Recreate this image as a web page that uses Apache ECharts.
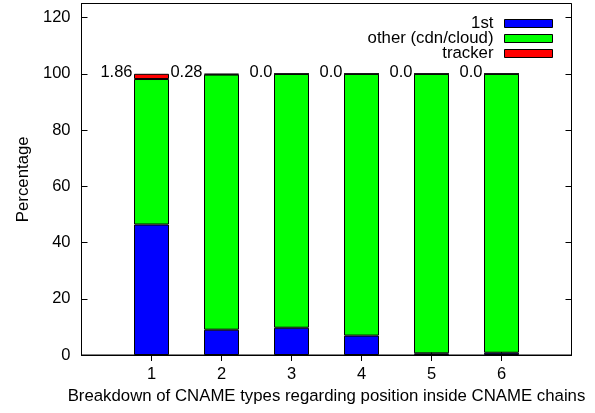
<!DOCTYPE html>
<html>
<head>
<meta charset="utf-8">
<script src="https://cdn.jsdelivr.net/npm/echarts@6/dist/echarts.min.js"></script>
<style>
html,body{margin:0;padding:0;background:#fff;}
#c{width:595px;height:413px;}
</style>
</head>
<body>
<div id="c"></div>
<script>
var xCategories = ['0', '1', '2', '3', '4', '5', '6', '7'];
var positions = ['1', '2', '3', '4', '5', '6'];
var firstParty = [46.4, 9.0, 9.7, 6.9, 0.6, 0.8];
var otherCdn = [51.74, 90.72, 90.26, 93.07, 99.37, 99.17];
var tracker = [1.86, 0.28, 0.04, 0.03, 0.03, 0.03];
var trackerLabels = ['1.86', '0.28', '0.0', '0.0', '0.0', '0.0'];
var yTicks = [0, 20, 40, 60, 80, 100, 120];

var FONT = 'Liberation Sans, Arial, Helvetica, sans-serif';
var FS = 16.5;
function fill(vals) {
  return xCategories.map(function (c) {
    var i = positions.indexOf(c);
    return i >= 0 ? vals[i] : '-';
  });
}
var totals = positions.map(function (p, i) { return firstParty[i] + otherCdn[i] + tracker[i]; });
function innerTick(idx, val) { return positions.indexOf(String(val)) >= 0; }

function barSeries(name, vals, color) {
  return {
    type: 'bar', stack: 'all', barWidth: 35, name: name, data: fill(vals),
    itemStyle: { color: color, borderColor: '#000', borderWidth: 1 },
    emphasis: { disabled: true }
  };
}

var chart = echarts.init(document.getElementById('c'), null, { renderer: 'canvas' });
chart.setOption({
  animation: false,
  backgroundColor: '#fff',
  textStyle: { fontFamily: FONT },
  grid: { left: 81.5, right: 23.5, top: 3.5, bottom: 58, show: true, borderColor: '#000', borderWidth: 1, containLabel: false },
  legend: {
    orient: 'vertical', right: 37, top: 10, align: 'right',
    itemWidth: 48, itemHeight: 8, itemGap: -2, icon: 'rect',
    data: ['1st', 'other (cdn/cloud)', 'tracker'],
    textStyle: { fontSize: 16.8, color: '#000', fontFamily: FONT, lineHeight: 16, padding: [0, 6, 0, 0] },
    itemStyle: { borderColor: '#000', borderWidth: 1 },
    selectedMode: false
  },
  xAxis: [{
    type: 'category', data: xCategories, boundaryGap: false, position: 'bottom',
    name: 'Breakdown of CNAME types regarding position inside CNAME chains',
    nameLocation: 'middle', nameGap: 28,
    nameTextStyle: { fontSize: 16.8, color: '#000', fontFamily: FONT },
    axisLine: { show: true, lineStyle: { color: '#000', width: 1 } },
    axisTick: { show: true, inside: true, length: 6, interval: innerTick, lineStyle: { color: '#000' } },
    axisLabel: { fontSize: FS, color: '#000', margin: 11, fontFamily: FONT, interval: 0,
      formatter: function (v) { return positions.indexOf(v) >= 0 ? v : ''; } },
    splitLine: { show: false }
  }, {
    type: 'category', data: xCategories, boundaryGap: false, position: 'top',
    axisLine: { show: false },
    axisTick: { show: true, inside: true, length: 6, interval: innerTick, lineStyle: { color: '#000' } },
    axisLabel: { show: false }, splitLine: { show: false }
  }],
  yAxis: [{
    type: 'value', min: 0, max: 125, interval: 20,
    name: 'Percentage', nameLocation: 'middle', nameGap: 45, nameRotate: 90,
    nameTextStyle: { fontSize: 16.8, color: '#000', fontFamily: FONT },
    axisLine: { show: true, lineStyle: { color: '#000', width: 1 } },
    axisTick: { show: true, inside: true, length: 6, lineStyle: { color: '#000' } },
    axisLabel: { fontSize: FS, color: '#000', margin: 11, fontFamily: FONT,
      formatter: function (v) { return yTicks.indexOf(v) >= 0 ? String(v) : ''; } },
    splitLine: { show: false }
  }, {
    type: 'value', min: 0, max: 125, interval: 20, position: 'right',
    axisLine: { show: false },
    axisTick: { show: true, inside: true, length: 6, lineStyle: { color: '#000' } },
    axisLabel: { show: false }, splitLine: { show: false }
  }],
  series: [
    barSeries('1st', firstParty, '#0000ff'),
    barSeries('other (cdn/cloud)', otherCdn, '#00ff00'),
    barSeries('tracker', tracker, '#ff0000'),
    {
      type: 'scatter', name: 'labels', symbolSize: 0, data: fill(totals), silent: true,
      itemStyle: { opacity: 1, color: '#000' },
      label: {
        show: true, position: 'left', distance: 0, offset: [-19, -1],
        fontSize: FS, color: '#000', fontFamily: FONT, opacity: 1,
        formatter: function (p) { return trackerLabels[positions.indexOf(xCategories[p.dataIndex])]; }
      }
    }
  ]
});
</script>
</body>
</html>
